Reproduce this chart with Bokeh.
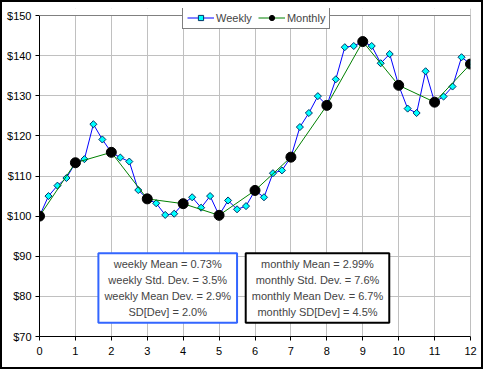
import math
from bokeh.plotting import figure
from bokeh.layouts import column
from bokeh.models import (Legend, LegendItem, Label, NumeralTickFormatter,
                          FixedTicker, Range1d, Span, BoxAnnotation)
from bokeh.embed import file_html
from bokeh.resources import INLINE

# ---- data ----
weekly_x = [0.0, 0.25, 0.5, 0.75, 1.0, 1.25, 1.5, 1.75, 2.0, 2.25, 2.5, 2.75,
            3.0, 3.25, 3.5, 3.75, 4.0, 4.25, 4.5, 4.75, 5.0, 5.25, 5.5, 5.75,
            6.0, 6.25, 6.5, 6.75, 7.0, 7.25, 7.5, 7.75, 8.0, 8.25, 8.5, 8.75,
            9.0, 9.25, 9.5, 9.75, 10.0, 10.25, 10.5, 10.75, 11.0, 11.25, 11.5,
            11.75, 12.0]
weekly_y = [100.0, 105.0, 107.6, 109.5, 113.3, 114.2, 122.9, 119.1, 115.9,
            114.6, 113.6, 106.5, 104.3, 103.2, 100.3, 100.6, 103.1, 104.7,
            102.1, 105.0, 100.2, 103.9, 101.7, 102.5, 106.4, 104.7, 110.7,
            111.4, 114.7, 122.2, 125.7, 129.9, 127.6, 134.1, 142.1, 142.4,
            143.5, 142.4, 138.1, 140.4, 132.6, 126.8, 125.7, 136.1, 128.4,
            129.8, 132.3, 139.6, 137.9]
monthly_x = [0, 1, 2, 3, 4, 5, 6, 7, 8, 9, 10, 11, 12]
monthly_y = [100.0, 113.3, 115.9, 104.3, 103.1, 100.2, 106.4, 114.7, 127.6,
             143.5, 132.6, 128.4, 137.9]
x_ticks = [0, 1, 2, 3, 4, 5, 6, 7, 8, 9, 10, 11, 12]
y_ticks = [70, 80, 90, 100, 110, 120, 130, 140, 150]
weekly_stats = ["weekly Mean = 0.73%", "weekly Std. Dev. = 3.5%",
                "weekly Mean Dev. = 2.9%", "SD[Dev] = 2.0%"]
monthly_stats = ["monthly Mean = 2.99%", "monthly Std. Dev. = 7.6%",
                 "monthly Mean Dev. = 6.7%", "monthly SD[Dev] = 4.5%"]

FONT = "Liberation Sans"
Y_MIN, Y_MAX = 70, 150
Y_TOP = Y_MAX + 7 / 4.0125   # a little head-room above $150 for the legend

p = figure(width=479, height=365, output_backend="svg", toolbar_location=None,
           x_range=Range1d(0, 12), y_range=Range1d(Y_MIN, Y_TOP),
           min_border_left=37, min_border_right=11, min_border_top=6,
           min_border_bottom=31)
p.background_fill_color = "white"
p.border_fill_color = "white"
p.outline_line_color = None

for ax in (p.xaxis, p.yaxis):
    ax.axis_line_color = "black"
    ax.axis_line_width = 1
    ax.major_tick_line_color = "black"
    ax.major_tick_out = 4
    ax.major_tick_in = 0
    ax.minor_tick_line_color = None
    ax.major_label_text_font = FONT
    ax.major_label_text_font_size = "11px"
    ax.major_label_text_color = "black"
p.xaxis.ticker = FixedTicker(ticks=x_ticks)
p.yaxis.ticker = FixedTicker(ticks=y_ticks)
p.yaxis.bounds = (Y_MIN, Y_MAX)
p.yaxis.formatter = NumeralTickFormatter(format="$0")
p.xaxis.major_label_standoff = 6
p.yaxis.major_label_standoff = 4

p.xgrid.grid_line_color = "#c0c0c0"
p.ygrid.grid_line_color = "#c0c0c0"
p.xgrid.grid_line_width = 1
p.ygrid.grid_line_width = 1

wl = p.line(weekly_x, weekly_y, line_color="#0000ff", line_width=1)
ws = p.scatter(weekly_x, weekly_y, marker="square", size=5, angle=math.pi / 4,
               fill_color="#00ffff", line_color="#003366", line_width=1)
ml = p.line(monthly_x, monthly_y, line_color="#008000", line_width=1)
ms = p.scatter(monthly_x, monthly_y, marker="circle", size=10,
               fill_color="black", line_color="black")

# plot-area border (right and top, grey), head-room blanked out
p.add_layout(Span(location=12, dimension="height", line_color="#808080",
                  line_width=1))
p.add_layout(BoxAnnotation(bottom=Y_MAX, fill_color="white", fill_alpha=1,
                           line_color=None))
p.add_layout(Span(location=Y_MAX, dimension="width", line_color="#808080",
                  line_width=1))

lab1 = Label(x=3.57, y=82.1, text="\n".join(weekly_stats),
             text_align="center", text_baseline="middle",
             text_font=FONT, text_font_size="11px", text_line_height=1.32,
             padding=(6, 5), border_line_color="#3366ff", border_line_width=2,
             background_fill_color="white")
lab2 = Label(x=7.74, y=82.1, text="\n".join(monthly_stats),
             text_align="center", text_baseline="middle",
             text_font=FONT, text_font_size="11px", text_line_height=1.32,
             padding=(6, 5), border_line_color="black", border_line_width=2,
             background_fill_color="white")
p.add_layout(lab1)
p.add_layout(lab2)

legend = Legend(items=[LegendItem(label="Weekly", renderers=[wl, ws]),
                       LegendItem(label="Monthly", renderers=[ml, ms])],
                orientation="horizontal", location=(143, 307),
                label_text_font=FONT, label_text_font_size="11px",
                glyph_width=27, glyph_height=13, label_standoff=2,
                spacing=6, padding=4, margin=0,
                border_line_color="black", border_line_width=1,
                background_fill_color="white", background_fill_alpha=1)
p.add_layout(legend, "center")

# outer chart border around the figure
layout = column(p, styles={"border": "2px solid black",
                           "background-color": "white"})

open("out.html", "w").write(file_html(layout, INLINE))
